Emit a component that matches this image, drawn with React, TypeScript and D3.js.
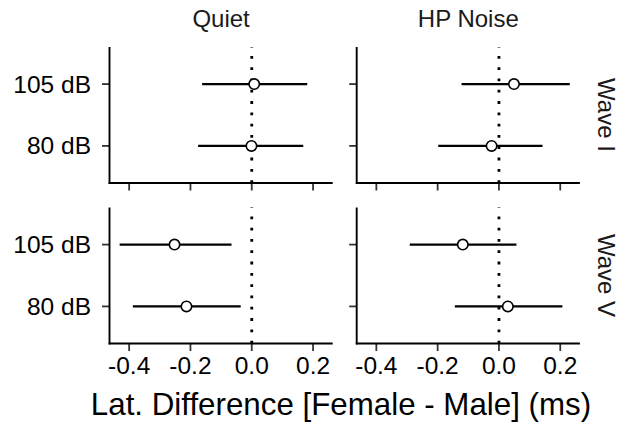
import React from "react";
import * as d3 from "d3";

const waves = ["Wave I", "Wave V"];
const conditions = ["Quiet", "HP Noise"];
const levels = ["105 dB", "80 dB"];
// order: wave -> condition -> level
const estimate = [0.008, -0.001, 0.049, -0.024, -0.252, -0.213, -0.118, 0.029];
const lower = [-0.162, -0.175, -0.122, -0.198, -0.431, -0.388, -0.291, -0.144];
const upper = [0.181, 0.168, 0.231, 0.142, -0.066, -0.036, 0.057, 0.207];
const xTicks = [-0.4, -0.2, 0.0, 0.2];
const xTitle = "Lat. Difference [Female - Male] (ms)";

const W = 619;
const H = 427;
const left0 = 109.5;
const panelW = 223.2;
const gapX = 24;
const top0 = 47;
const panelH = 136;
const gapY = 24.5;
const FONT = "'Liberation Sans', Arial, Helvetica, sans-serif";

export default function App() {
  const lo = d3.min(lower) as number;
  const hi = d3.max(upper) as number;
  const pad = (hi - lo) * 0.05;
  const x = d3.scaleLinear().domain([lo - pad, hi + pad]).range([0, panelW]);
  const y = d3.scalePoint<string>().domain(levels).range([0, panelH]).padding(0.6);
  const fmt = (v: number) => v.toFixed(1);

  const panels: React.ReactNode[] = [];
  waves.forEach((wave, wi) => {
    conditions.forEach((cond, ci) => {
      const px = left0 + ci * (panelW + gapX);
      const py = top0 + wi * (panelH + gapY);
      const rows = levels.map((lev, li) => {
        const idx = wi * 4 + ci * 2 + li;
        return { lev, est: estimate[idx], lo: lower[idx], hi: upper[idx] };
      });
      panels.push(
        <g key={wave + cond} transform={`translate(${px},${py})`}>
          {/* zero reference line */}
          <line
            x1={x(0)}
            x2={x(0)}
            y1={panelH}
            y2={0}
            stroke="#000"
            strokeWidth={2.8}
            strokeDasharray="2.8 8.5"
          />
          {rows.map((r) => (
            <line
              key={"e" + r.lev}
              x1={x(r.lo)}
              x2={x(r.hi)}
              y1={y(r.lev)}
              y2={y(r.lev)}
              stroke="#000"
              strokeWidth={2.1}
            />
          ))}
          {rows.map((r) => (
            <circle
              key={"p" + r.lev}
              cx={x(r.est)}
              cy={y(r.lev)}
              r={5.2}
              fill="#fff"
              stroke="#000"
              strokeWidth={1.6}
            />
          ))}
          {/* axes */}
          {xTicks.map((t) => (
            <line key={"xt" + t} x1={x(t)} x2={x(t)} y1={panelH} y2={panelH + 7.5} stroke="#333" strokeWidth={1.8} />
          ))}
          {levels.map((l) => (
            <line key={"yt" + l} x1={-7.5} x2={0} y1={y(l)} y2={y(l)} stroke="#333" strokeWidth={1.8} />
          ))}
          <line x1={-0.9} x2={panelW} y1={panelH} y2={panelH} stroke="#000" strokeWidth={1.9} />
          <line x1={0} x2={0} y1={0} y2={panelH + 0.9} stroke="#000" strokeWidth={1.9} />
          {wi === waves.length - 1 &&
            xTicks.map((t) => (
              <text
                key={"xl" + t}
                x={x(t)}
                y={panelH + 30}
                textAnchor="middle"
                fontSize={24.5}
                fill="#000"
              >
                {fmt(t)}
              </text>
            ))}
          {ci === 0 &&
            levels.map((l) => (
              <text key={"yl" + l} x={-18.5} y={y(l)} dy="0.35em" textAnchor="end" fontSize={24.5} fill="#000">
                {l}
              </text>
            ))}
          {wi === 0 && (
            <text x={panelW / 2} y={-20} textAnchor="middle" fontSize={24} fill="#1a1a1a">
              {cond}
            </text>
          )}
          {ci === conditions.length - 1 && (
            <text
              transform={`translate(${panelW + 18.5},${panelH / 2}) rotate(90)`}
              textAnchor="middle"
              fontSize={24}
              fill="#1a1a1a"
            >
              {wave}
            </text>
          )}
        </g>
      );
    });
  });

  return (
    <svg
      width={W}
      height={H}
      style={{ position: "absolute", left: 0, top: 0, display: "block", background: "#fff" }}
      fontFamily={FONT}
    >
      <rect width={W} height={H} fill="#fff" />
      {panels}
      <text x={341} y={415} textAnchor="middle" fontSize={31.3} fill="#000">
        {xTitle}
      </text>
    </svg>
  );
}
